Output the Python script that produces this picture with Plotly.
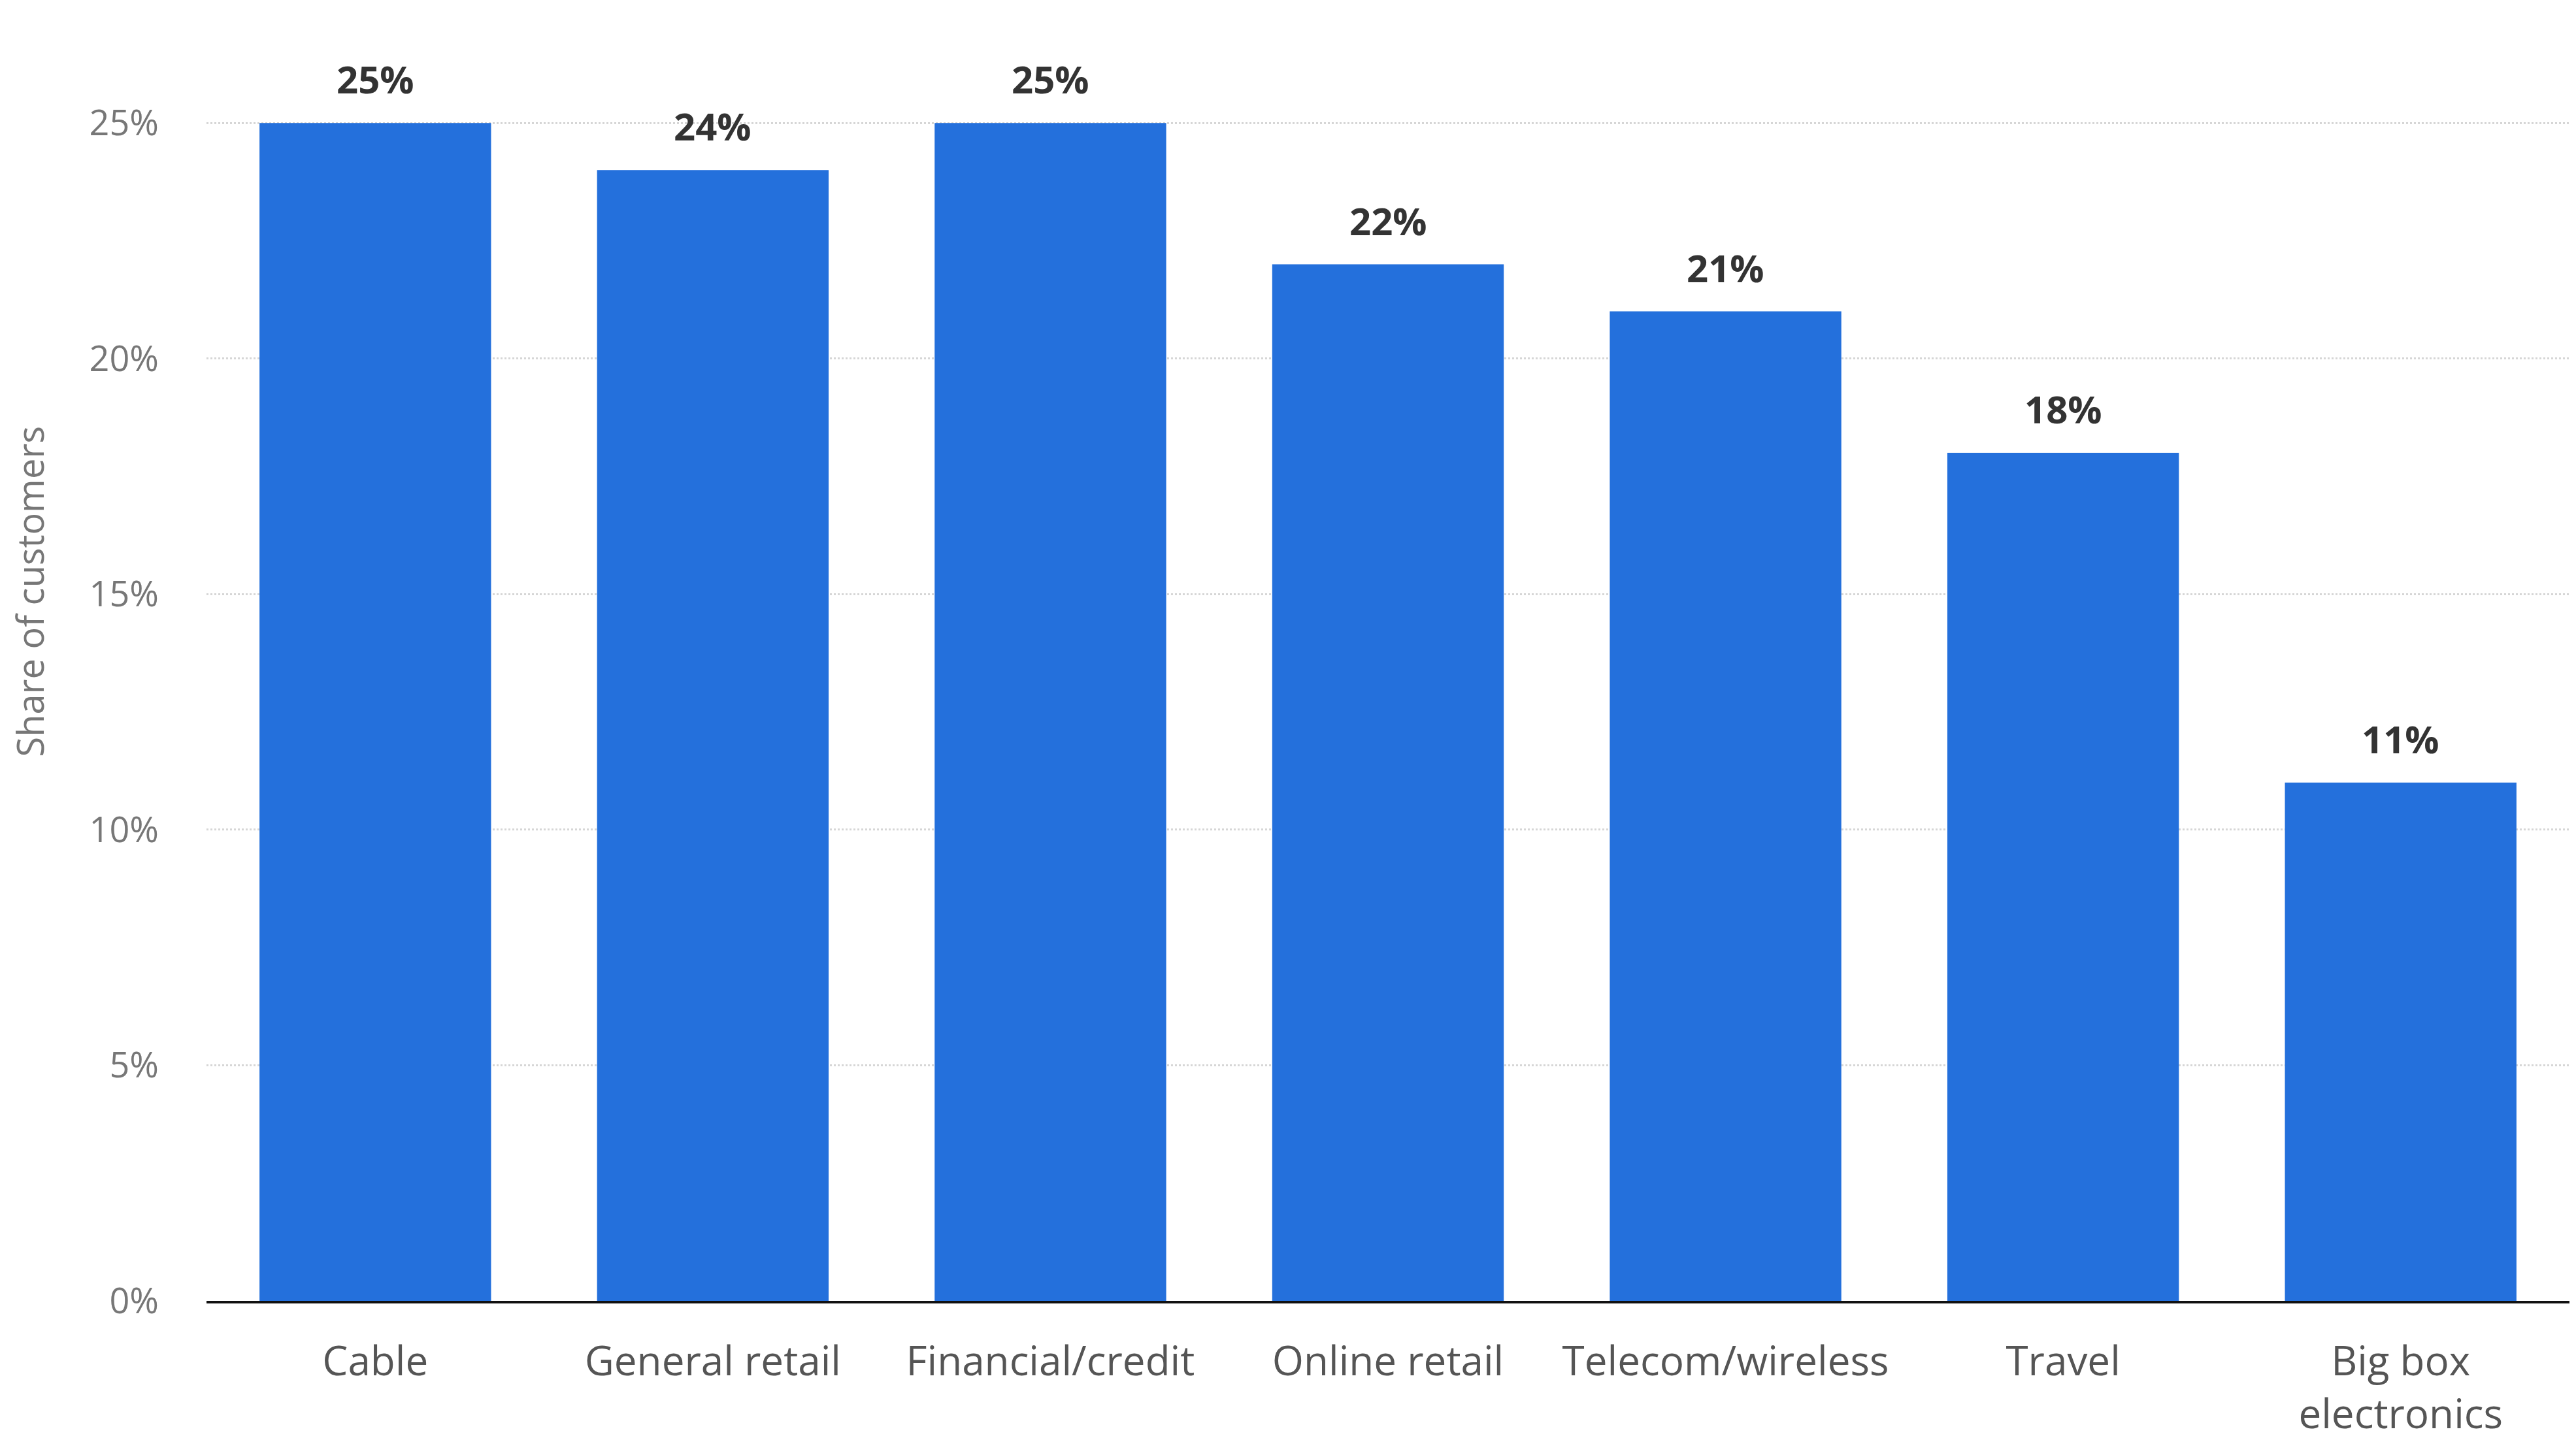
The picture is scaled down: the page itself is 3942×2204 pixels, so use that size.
import plotly.graph_objects as go

categories = ["Cable", "General retail", "Financial/credit", "Online retail",
              "Telecom/wireless", "Travel", "Big box<br>electronics"]
values = [25, 24, 25, 22, 21, 18, 11]
labels = [f"{v}%" for v in values]
y_ticks = [0, 5, 10, 15, 20, 25]
y_tick_text = [f"{t}%" for t in y_ticks]
y_title = "Share of customers"

FONT = "Open Sans"

fig = go.Figure()
fig.add_trace(go.Bar(
    x=categories, y=values,
    marker=dict(color="#2470dc", line=dict(width=0)),
    hoverinfo="skip",
))

for c, v, t in zip(categories, values, labels):
    fig.add_annotation(x=c, y=v, text=f"<b>{t}</b>", showarrow=False,
                       yanchor="bottom", yshift=26,
                       font=dict(family=FONT, size=58, color="#333333"))

fig.add_annotation(xref="paper", yref="paper", x=0, y=0.568, xshift=-271,
                   xanchor="center", yanchor="middle", textangle=-90,
                   text=y_title, showarrow=False,
                   font=dict(family=FONT, size=56, color="#777777"))

fig.update_layout(
    width=3942, height=2204,
    margin=dict(l=316, r=10, t=80, b=213, autoexpand=False),
    paper_bgcolor="white", plot_bgcolor="white",
    bargap=0.314,
    showlegend=False,
    font=dict(family=FONT, color="#555555"),
)
fig.update_xaxes(
    automargin=False,
    showline=True, linecolor="#111111", linewidth=4,
    showgrid=False, ticks="", tickfont=dict(family=FONT, size=62, color="#555555"),
    ticklabelstandoff=36,
)
fig.update_yaxes(
    automargin=False,
    range=[0, 26.5], tickvals=y_ticks, ticktext=y_tick_text,
    showgrid=True, gridcolor="#d6d6d6", gridwidth=3, griddash="dot",
    zeroline=False, showline=False, ticks="",
    tickfont=dict(family=FONT, size=54, color="#777777"),
    ticklabelstandoff=72,
)

fig.write_html("out.html")
